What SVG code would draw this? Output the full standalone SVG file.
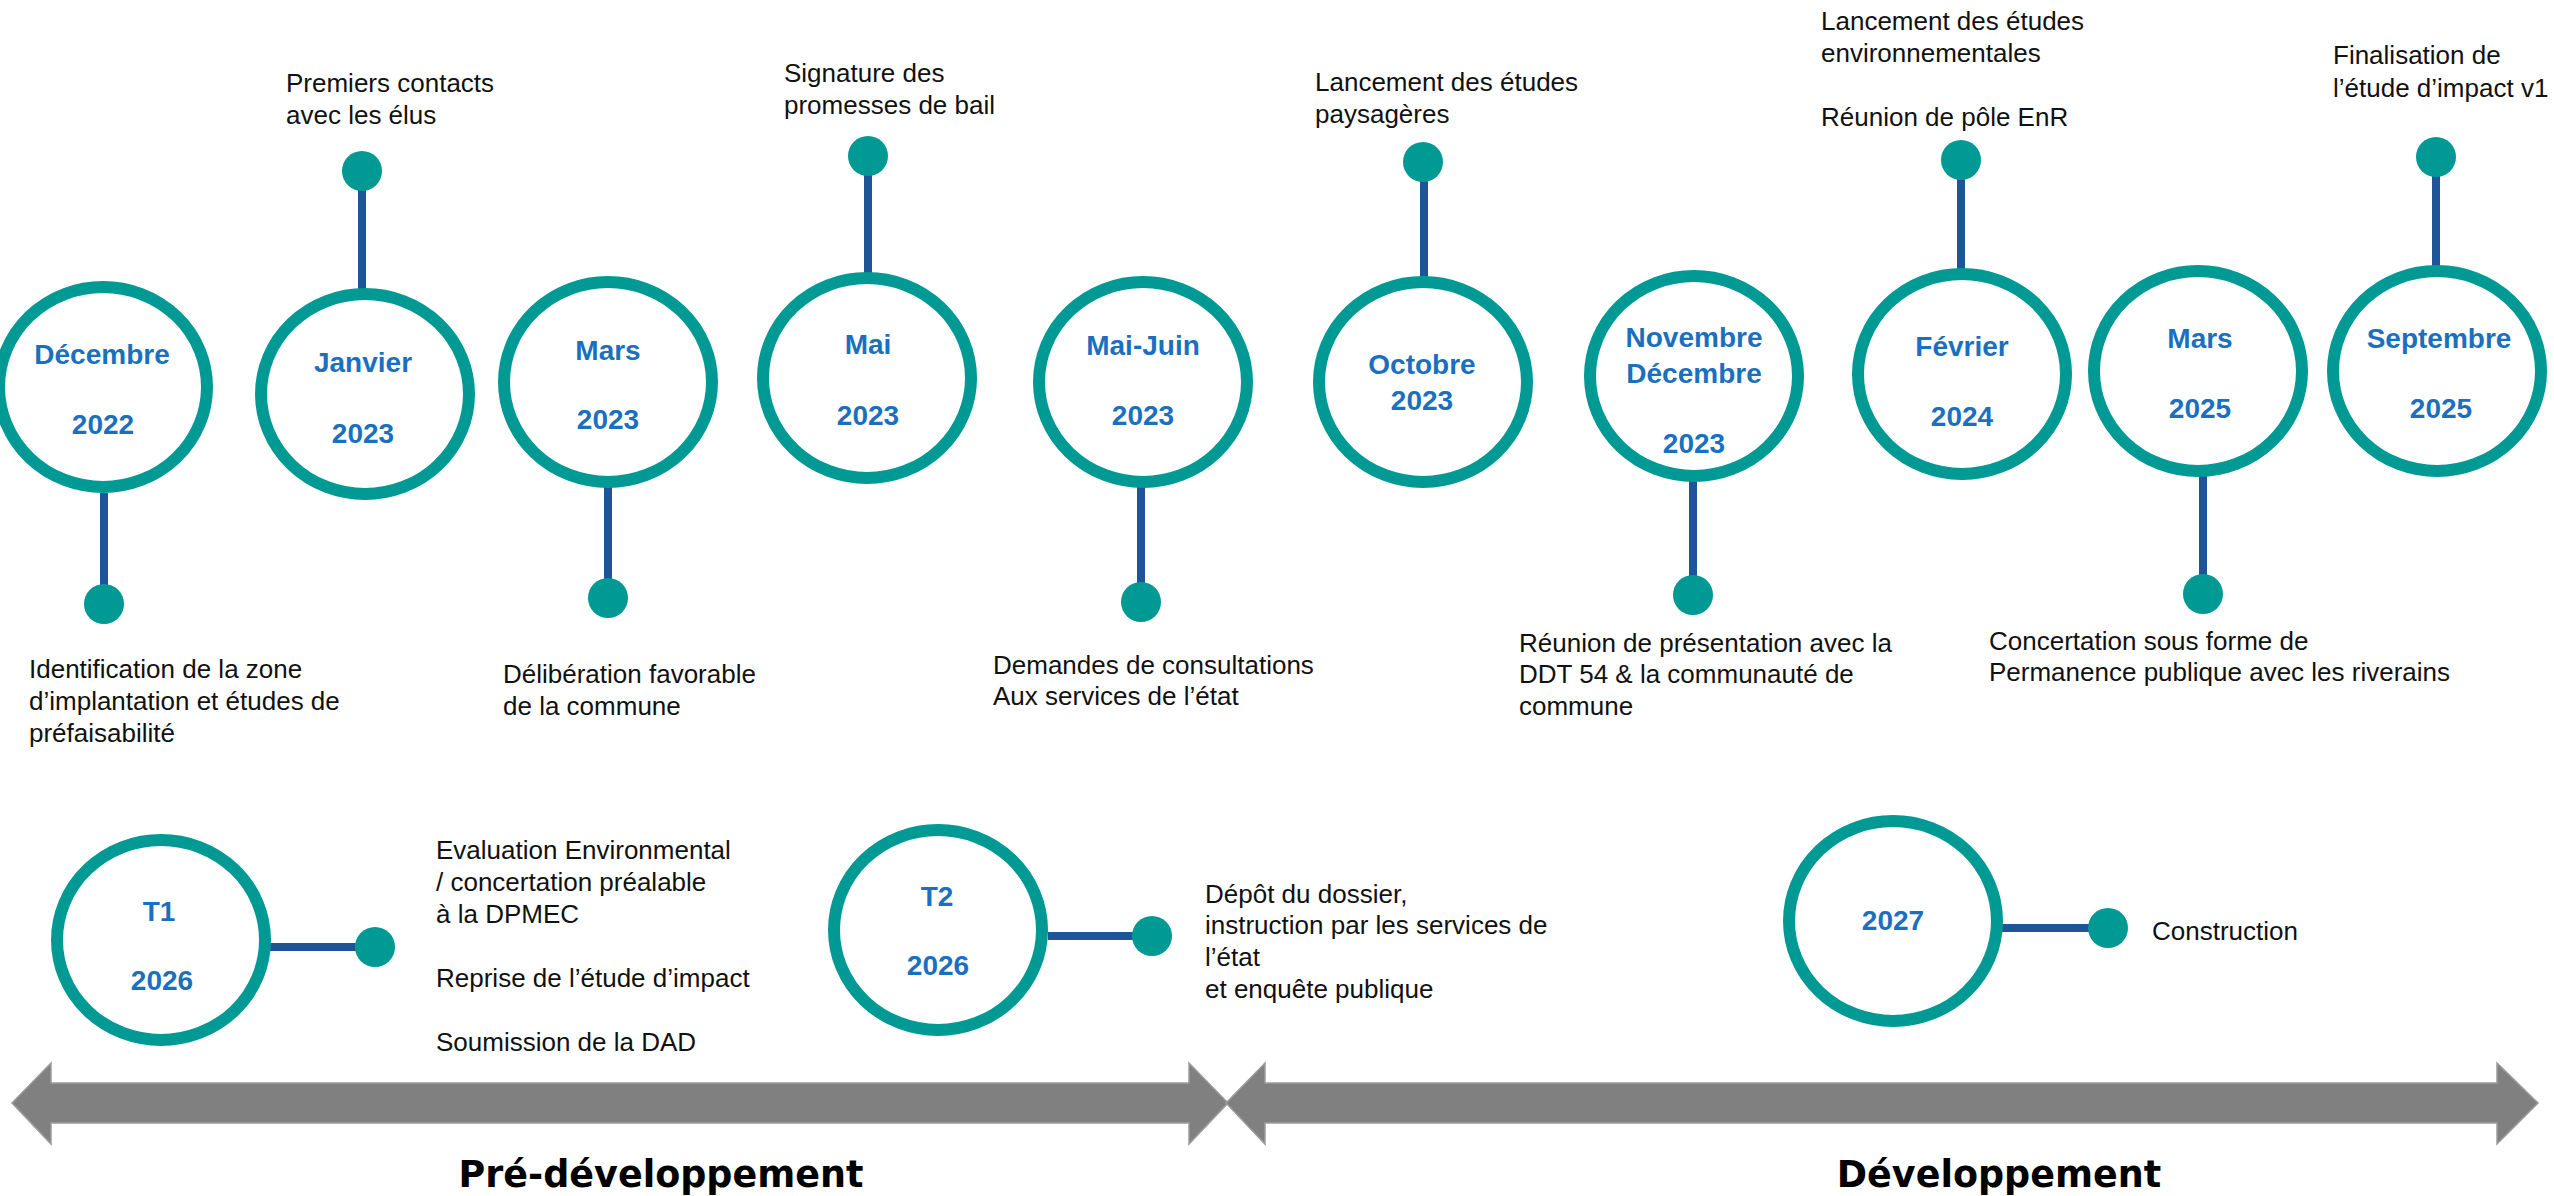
<svg xmlns="http://www.w3.org/2000/svg" width="2554" height="1196" viewBox="0 0 2554 1196">
<style>
.ring{fill:#fff;stroke:#009994;stroke-width:12}
.dot{fill:#009994}
.stem{stroke:#1f5598;stroke-width:8;fill:none}
.date{font-family:"Liberation Sans",Arial,sans-serif;font-weight:bold;font-size:28px;fill:#1a70bf;text-anchor:middle}
.lbl{font-family:"Liberation Sans",Arial,sans-serif;font-size:26px;fill:#111}
.phase{font-family:"DejaVu Sans",Verdana,sans-serif;font-weight:bold;font-size:36.5px;fill:#000;text-anchor:middle}
.arrow{fill:#808080;stroke:#9c9c9c;stroke-width:1.5}
</style>
<rect width="2554" height="1196" fill="#fff"/>

<g id="connectors">
<line class="stem" x1="104" y1="493" x2="104" y2="604"/>
<line class="stem" x1="362" y1="171" x2="362" y2="289"/>
<line class="stem" x1="608" y1="487" x2="608" y2="598"/>
<line class="stem" x1="868" y1="156" x2="868" y2="273"/>
<line class="stem" x1="1141" y1="487" x2="1141" y2="602"/>
<line class="stem" x1="1424" y1="162" x2="1424" y2="277"/>
<line class="stem" x1="1693" y1="481" x2="1693" y2="595"/>
<line class="stem" x1="1961" y1="160" x2="1961" y2="269"/>
<line class="stem" x1="2203" y1="476" x2="2203" y2="594"/>
<line class="stem" x1="2436" y1="157" x2="2436" y2="266"/>
<line class="stem" x1="270" y1="947" x2="375" y2="947"/>
<line class="stem" x1="1048" y1="936" x2="1152" y2="936"/>
<line class="stem" x1="2002" y1="928" x2="2108" y2="928"/>
</g>

<g id="phases">
<path class="arrow" d="M12,1103 L51,1063 L51,1083 L1189,1083 L1189,1063 L1228,1103 L1189,1144 L1189,1123 L51,1123 L51,1144 Z"/>
<path class="arrow" d="M1226,1103 L1265,1063 L1265,1083 L2497,1083 L2497,1063 L2538,1103 L2497,1144 L2497,1123 L1265,1123 L1265,1144 Z"/>
<text class="phase" x="661" y="1187">Pré-développement</text>
<text class="phase" x="1999" y="1187">Développement</text>
</g>

<g id="dec2022">
<ellipse class="ring" cx="103" cy="387" rx="104" ry="100"/>
<text class="date" x="102" y="364">Décembre</text>
<text class="date" x="103" y="434">2022</text>
<circle class="dot" cx="104" cy="604" r="20"/>
<text class="lbl" x="29" y="678">Identification de la zone</text>
<text class="lbl" x="29" y="710">d’implantation et études de</text>
<text class="lbl" x="29" y="742">préfaisabilité</text>
</g>

<g id="jan2023">
<ellipse class="ring" cx="365" cy="394" rx="104" ry="100"/>
<text class="date" x="363" y="372">Janvier</text>
<text class="date" x="363" y="443">2023</text>
<circle class="dot" cx="362" cy="171" r="20"/>
<text class="lbl" x="286" y="92">Premiers contacts</text>
<text class="lbl" x="286" y="124">avec les élus</text>
</g>

<g id="mar2023">
<ellipse class="ring" cx="608" cy="382" rx="104" ry="100"/>
<text class="date" x="608" y="360">Mars</text>
<text class="date" x="608" y="429">2023</text>
<circle class="dot" cx="608" cy="598" r="20"/>
<text class="lbl" x="503" y="683">Délibération favorable</text>
<text class="lbl" x="503" y="715">de la commune</text>
</g>

<g id="mai2023">
<ellipse class="ring" cx="867" cy="378" rx="104" ry="100"/>
<text class="date" x="868" y="354">Mai</text>
<text class="date" x="868" y="425">2023</text>
<circle class="dot" cx="868" cy="156" r="20"/>
<text class="lbl" x="784" y="82">Signature des</text>
<text class="lbl" x="784" y="114">promesses de bail</text>
</g>

<g id="maijuin2023">
<ellipse class="ring" cx="1143" cy="382" rx="104" ry="100"/>
<text class="date" x="1143" y="355">Mai-Juin</text>
<text class="date" x="1143" y="425">2023</text>
<circle class="dot" cx="1141" cy="602" r="20"/>
<text class="lbl" x="993" y="674">Demandes de consultations</text>
<text class="lbl" x="993" y="705">Aux services de l’état</text>
</g>

<g id="oct2023">
<ellipse class="ring" cx="1423" cy="382" rx="104" ry="100"/>
<text class="date" x="1422" y="374">Octobre</text>
<text class="date" x="1422" y="410">2023</text>
<circle class="dot" cx="1423" cy="162" r="20"/>
<text class="lbl" x="1315" y="91">Lancement des études</text>
<text class="lbl" x="1315" y="123">paysagères</text>
</g>

<g id="novdec2023">
<ellipse class="ring" cx="1694" cy="376" rx="104" ry="100"/>
<text class="date" x="1694" y="347">Novembre</text>
<text class="date" x="1694" y="383">Décembre</text>
<text class="date" x="1694" y="453">2023</text>
<circle class="dot" cx="1693" cy="595" r="20"/>
<text class="lbl" x="1519" y="652">Réunion de présentation avec la</text>
<text class="lbl" x="1519" y="683">DDT 54 &amp; la communauté de</text>
<text class="lbl" x="1519" y="715">commune</text>
</g>

<g id="fev2024">
<ellipse class="ring" cx="1962" cy="374" rx="104" ry="100"/>
<text class="date" x="1962" y="356">Février</text>
<text class="date" x="1962" y="426">2024</text>
<circle class="dot" cx="1961" cy="160" r="20"/>
<text class="lbl" x="1821" y="30">Lancement des études</text>
<text class="lbl" x="1821" y="62">environnementales</text>
<text class="lbl" x="1821" y="126">Réunion de pôle EnR</text>
</g>

<g id="mar2025">
<ellipse class="ring" cx="2198" cy="371" rx="104" ry="100"/>
<text class="date" x="2200" y="348">Mars</text>
<text class="date" x="2200" y="418">2025</text>
<circle class="dot" cx="2203" cy="594" r="20"/>
<text class="lbl" x="1989" y="650">Concertation sous forme de</text>
<text class="lbl" x="1989" y="681">Permanence publique avec les riverains</text>
</g>

<g id="sep2025">
<ellipse class="ring" cx="2437" cy="371" rx="104" ry="100"/>
<text class="date" x="2439" y="348">Septembre</text>
<text class="date" x="2441" y="418">2025</text>
<circle class="dot" cx="2436" cy="157" r="20"/>
<text class="lbl" x="2333" y="64">Finalisation de</text>
<text class="lbl" x="2333" y="97">l’étude d’impact v1</text>
</g>

<g id="t1-2026">
<ellipse class="ring" cx="161" cy="940" rx="104" ry="100"/>
<text class="date" x="159" y="921">T1</text>
<text class="date" x="162" y="990">2026</text>
<circle class="dot" cx="375" cy="947" r="20"/>
<text class="lbl" x="436" y="859">Evaluation Environmental</text>
<text class="lbl" x="436" y="891">/ concertation préalable</text>
<text class="lbl" x="436" y="923">à la DPMEC</text>
<text class="lbl" x="436" y="987">Reprise de l’étude d’impact</text>
<text class="lbl" x="436" y="1051">Soumission de la DAD</text>
</g>

<g id="t2-2026">
<ellipse class="ring" cx="938" cy="930" rx="104" ry="100"/>
<text class="date" x="937" y="906">T2</text>
<text class="date" x="938" y="975">2026</text>
<circle class="dot" cx="1152" cy="936" r="20"/>
<text class="lbl" x="1205" y="903">Dépôt du dossier,</text>
<text class="lbl" x="1205" y="934">instruction par les services de</text>
<text class="lbl" x="1205" y="966">l’état</text>
<text class="lbl" x="1205" y="998">et enquête publique</text>
</g>

<g id="y2027">
<ellipse class="ring" cx="1893" cy="921" rx="104" ry="100"/>
<text class="date" x="1893" y="930">2027</text>
<circle class="dot" cx="2108" cy="928" r="20"/>
<text class="lbl" x="2152" y="940">Construction</text>
</g>
</svg>
